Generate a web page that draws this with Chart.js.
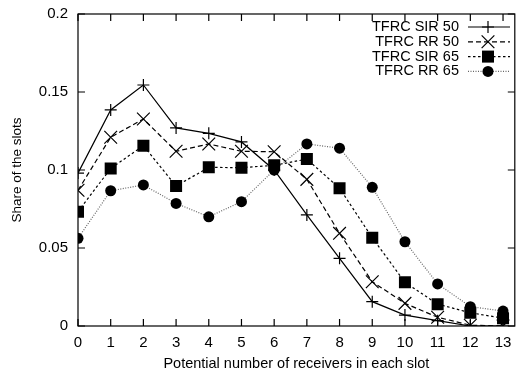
<!DOCTYPE html>
<html>
<head>
<meta charset="utf-8">
<script src="https://cdn.jsdelivr.net/npm/chart.js@4.4.1/dist/chart.umd.min.js"></script>
<style>
  html, body { margin: 0; padding: 0; background: #fff; }
  #wrap { width: 525px; height: 374px; }
</style>
</head>
<body>
<div id="wrap"><canvas id="lineChart" width="525" height="374"></canvas></div>
<script>
const receivers = [0, 1, 2, 3, 4, 5, 6, 7, 8, 9, 10, 11, 12, 13];

const sir50 = [0.098, 0.1385, 0.1545, 0.127, 0.1235, 0.118, 0.100, 0.0712, 0.0434, 0.0156, 0.007, 0.0034, 0.0, 0.0];
const rr50  = [0.087, 0.121, 0.1327, 0.112, 0.1167, 0.112, 0.1117, 0.094, 0.0594, 0.0284, 0.0145, 0.0056, 0.0005, 0.0];
const sir65 = [0.0733, 0.101, 0.1156, 0.0897, 0.1017, 0.1015, 0.103, 0.107, 0.0883, 0.0566, 0.028, 0.014, 0.0085, 0.005];
const rr65  = [0.0562, 0.0867, 0.0904, 0.0786, 0.070, 0.0797, 0.100, 0.1167, 0.114, 0.0889, 0.054, 0.027, 0.0124, 0.0096];

const yTicks = [0, 0.05, 0.1, 0.15, 0.2];

const FONT = "'Liberation Sans', Arial, Helvetica, sans-serif";

function pts(vals) {
    return vals.map((v, i) => ({ x: receivers[i], y: v }));
}

// frame with inward ticks on all four sides + legend drawn gnuplot-style
const framePlugin = {
    id: "frame",
    afterDatasetsDraw(chart) {
        const ctx = chart.ctx;
        const a = chart.chartArea;
        const xs = chart.scales.x, ys = chart.scales.y;
        const tl = 7;
        ctx.save();
        ctx.strokeStyle = "#000";
        ctx.lineWidth = 1.2;
        ctx.setLineDash([]);
        ctx.strokeRect(a.left, a.top, a.right - a.left, a.bottom - a.top);
        ctx.beginPath();
        receivers.forEach(v => {
            const px = xs.getPixelForValue(v);
            ctx.moveTo(px, a.bottom); ctx.lineTo(px, a.bottom - tl);
            ctx.moveTo(px, a.top); ctx.lineTo(px, a.top + tl);
        });
        yTicks.forEach(v => {
            const py = ys.getPixelForValue(v);
            ctx.moveTo(a.left, py); ctx.lineTo(a.left + tl, py);
            ctx.moveTo(a.right, py); ctx.lineTo(a.right - tl, py);
        });
        ctx.stroke();

        // legend
        ctx.font = "14.5px " + FONT;
        ctx.textAlign = "right";
        ctx.textBaseline = "middle";
        chart.data.datasets.forEach((ds, i) => {
            const y = 27 + i * 14.8;
            ctx.fillStyle = "#000";
            ctx.fillText(ds.label, 459, y);
            ctx.strokeStyle = ds.borderColor;
            ctx.lineWidth = ds.borderWidth;
            ctx.setLineDash(ds.borderDash || []);
            ctx.beginPath();
            ctx.moveTo(468, y); ctx.lineTo(510, y);
            ctx.stroke();
            ctx.setLineDash([]);
            ctx.fillStyle = "#000";
            ctx.strokeStyle = "#000";
            ctx.lineWidth = ds.pointBorderWidth;
            Chart.helpers.drawPoint(ctx, {
                pointStyle: ds.pointStyle,
                radius: ds.pointRadius,
                borderWidth: ds.pointBorderWidth
            }, 488, y);
        });
        ctx.restore();
    }
};

new Chart(document.getElementById("lineChart"), {
    type: "line",
    data: {
        datasets: [
            {
                label: "TFRC SIR 50",
                data: pts(sir50),
                borderColor: "#000",
                backgroundColor: "#000",
                borderWidth: 1.2,
                pointStyle: "cross",
                pointRadius: 6,
                pointBorderWidth: 1.2
            },
            {
                label: "TFRC RR 50",
                data: pts(rr50),
                borderColor: "#000",
                backgroundColor: "#000",
                borderWidth: 1.2,
                borderDash: [5, 3],
                pointStyle: "crossRot",
                pointRadius: 9,
                pointBorderWidth: 1.2
            },
            {
                label: "TFRC SIR 65",
                data: pts(sir65),
                borderColor: "#000",
                backgroundColor: "#000",
                borderWidth: 1.2,
                borderDash: [2.5, 2.5],
                pointStyle: "rect",
                pointRadius: 8.5,
                pointBorderWidth: 0
            },
            {
                label: "TFRC RR 65",
                data: pts(rr65),
                borderColor: "#666",
                backgroundColor: "#000",
                borderWidth: 1.2,
                borderDash: [1, 1.5],
                pointStyle: "circle",
                pointRadius: 5.5,
                pointBorderWidth: 0
            }
        ]
    },
    options: {
        responsive: false,
        animation: false,
        layout: { padding: { top: 14, right: 2, left: 0, bottom: 0 } },
        plugins: {
            legend: { display: false },
            tooltip: { enabled: false }
        },
        scales: {
            x: {
                type: "linear",
                min: 0,
                max: 13.36,
                grid: { display: false, drawTicks: false },
                border: { display: false },
                afterFit: s => { s.height = 48; s.paddingLeft = 0; s.paddingRight = 0; },
                afterBuildTicks: s => { s.ticks = receivers.map(v => ({ value: v })); },
                ticks: {
                    color: "#000",
                    padding: 8,
                    maxRotation: 0,
                    font: { family: FONT, size: 15 },
                    callback: v => String(v)
                },
                title: {
                    display: true,
                    text: "Potential number of receivers in each slot",
                    color: "#000",
                    font: { family: FONT, size: 14.5 },
                    padding: { top: 0, bottom: 1 }
                }
            },
            y: {
                min: 0,
                max: 0.2,
                grid: { display: false, drawTicks: false },
                border: { display: false },
                afterFit: s => { s.width = 78; s.paddingTop = 0; s.paddingBottom = 0; },
                afterBuildTicks: s => { s.ticks = yTicks.map(v => ({ value: v })); },
                ticks: {
                    color: "#000",
                    padding: 10,
                    font: { family: FONT, size: 15 },
                    callback: v => String(v)
                },
                title: {
                    display: true,
                    text: "Share of the slots",
                    color: "#000",
                    font: { family: FONT, size: 13.5 },
                    padding: { top: 9, bottom: 0 }
                }
            }
        }
    },
    plugins: [framePlugin]
});
</script>
</body>
</html>
